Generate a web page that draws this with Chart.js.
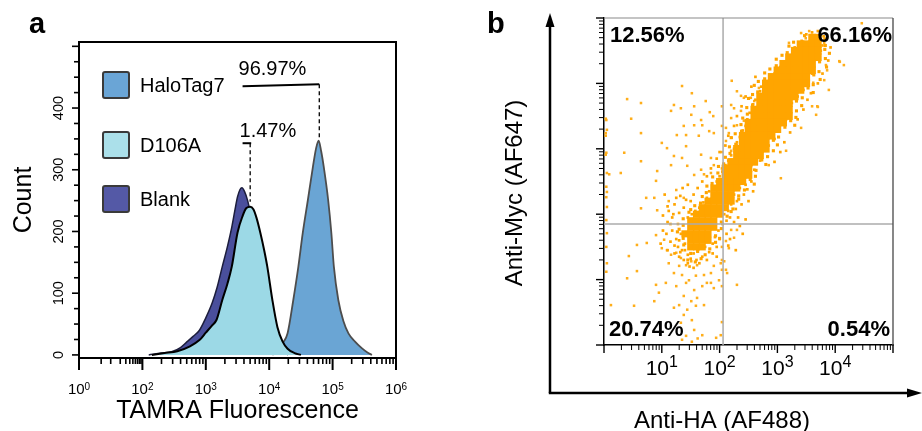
<!DOCTYPE html>
<html><head><meta charset="utf-8">
<script src="https://cdn.jsdelivr.net/npm/chart.js@4.4.0/dist/chart.umd.min.js"></script>
<style>
html,body{margin:0;padding:0;background:#fff;}
#wrap{position:relative;width:922px;height:431px;overflow:hidden;background:#fff;}
#ca{position:absolute;left:0;top:0;}
#cb{position:absolute;left:460px;top:0;}
</style></head><body>
<div id="wrap"><canvas id="ca" width="460" height="431"></canvas><canvas id="cb" width="462" height="431"></canvas></div>
<script>
// ---------------- DATA: panel a (log10 TAMRA fluorescence vs count) ----------------
const haloLog   = [4.05,4.15,4.22,4.29,4.38,4.46,4.53,4.61,4.69,4.74,4.78,4.82,4.86,4.93,4.98,5.02,5.09,5.17,5.25,5.35,5.46,5.55,5.62];
const haloCount = [0,8,20,35,89,143,198,251,305,335,347,330,305,251,198,143,89,55,35,22,11,4,0];
const d106aLog   = [2.15,2.35,2.55,2.75,2.90,3.00,3.10,3.17,3.26,3.34,3.41,3.50,3.58,3.64,3.70,3.75,3.80,3.86,3.92,3.97,4.05,4.13,4.21,4.29,4.40,4.50];
const d106aCount = [0,3,6,14,24,36,48,57,89,115,143,198,225,238,240,236,222,198,170,143,89,45,22,10,3,0];
const blankLog   = [2.10,2.30,2.46,2.60,2.69,2.80,2.90,3.00,3.10,3.18,3.26,3.34,3.41,3.46,3.50,3.54,3.57,3.61,3.66,3.70,3.75,3.80,3.86,3.92,3.97,4.05,4.13,4.21,4.30];
const blankCount = [0,3,5,12,20,30,40,60,84,110,143,175,207,235,256,268,271,265,250,232,210,188,160,130,100,60,28,10,0];
const seriesNames = ['HaloTag7','D106A','Blank'];
const aXTickExps = [0,2,3,4,5,6];
const aYTickLabels = [0,100,200,300,400];
const gateHalo = {text:'96.97%', fromLog:3.58, toLog:4.79, level:437, peak:348};
const gateD106A = {text:'1.47%', fromLog:3.58, toLog:3.70, level:343, end:248};

// ---------------- DATA: panel b (log10 anti-HA vs log10 anti-Myc) ----------------
const quadPercents = ['12.56%','66.16%','20.74%','0.54%'];
const gateX = 2.06, gateY = 1.85;
const bTickExps = [1,2,3,4];
const coreDense = [
[3.6,4.7],[3.7,4.7],
[3.4,4.6],[3.5,4.6],[3.6,4.6],[3.7,4.6],
[3.3,4.5],[3.4,4.5],[3.5,4.5],[3.6,4.5],[3.7,4.5],
[3.2,4.4],[3.3,4.4],[3.4,4.4],[3.5,4.4],[3.6,4.4],[3.7,4.4],
[3.1,4.3],[3.2,4.3],[3.3,4.3],[3.4,4.3],[3.5,4.3],[3.6,4.3],
[3.0,4.2],[3.1,4.2],[3.2,4.2],[3.3,4.2],[3.4,4.2],[3.5,4.2],[3.6,4.2],
[2.9,4.1],[3.0,4.1],[3.1,4.1],[3.2,4.1],[3.3,4.1],[3.4,4.1],[3.5,4.1],
[2.8,4.0],[2.9,4.0],[3.0,4.0],[3.1,4.0],[3.2,4.0],[3.3,4.0],[3.4,4.0],[3.5,4.0],
[2.8,3.9],[2.9,3.9],[3.0,3.9],[3.1,3.9],[3.2,3.9],[3.3,3.9],[3.4,3.9],
[2.7,3.8],[2.8,3.8],[2.9,3.8],[3.0,3.8],[3.1,3.8],[3.2,3.8],[3.3,3.8],
[2.7,3.7],[2.8,3.7],[2.9,3.7],[3.0,3.7],[3.1,3.7],[3.2,3.7],
[2.6,3.6],[2.7,3.6],[2.8,3.6],[2.9,3.6],[3.0,3.6],[3.1,3.6],[3.2,3.6],
[2.6,3.5],[2.7,3.5],[2.8,3.5],[2.9,3.5],[3.0,3.5],[3.1,3.5],[3.2,3.5],
[2.5,3.4],[2.6,3.4],[2.7,3.4],[2.8,3.4],[2.9,3.4],[3.0,3.4],[3.1,3.4],
[2.5,3.3],[2.6,3.3],[2.7,3.3],[2.8,3.3],[2.9,3.3],[3.0,3.3],
[2.4,3.2],[2.5,3.2],[2.6,3.2],[2.7,3.2],[2.8,3.2],[2.9,3.2],
[2.4,3.1],[2.5,3.1],[2.6,3.1],[2.7,3.1],[2.8,3.1],
[2.3,3.0],[2.4,3.0],[2.5,3.0],[2.6,3.0],[2.7,3.0],[2.8,3.0],
[2.3,2.9],[2.4,2.9],[2.5,2.9],[2.6,2.9],[2.7,2.9],
[2.2,2.8],[2.3,2.8],[2.4,2.8],[2.5,2.8],[2.6,2.8],
[2.1,2.7],[2.2,2.7],[2.3,2.7],[2.4,2.7],[2.5,2.7],
[2.1,2.6],[2.2,2.6],[2.3,2.6],[2.4,2.6],[2.5,2.6]
];
const coreMid = [
[2.0,2.5],[2.1,2.5],[2.2,2.5],[2.3,2.5],[2.4,2.5],
[1.9,2.4],[2.0,2.4],[2.1,2.4],[2.2,2.4],[2.3,2.4],
[1.9,2.3],[2.0,2.3],[2.1,2.3],[2.2,2.3],
[1.8,2.2],[1.9,2.2],[2.0,2.2],[2.1,2.2],[2.2,2.2],
[1.7,2.1],[1.8,2.1],[1.9,2.1],[2.0,2.1],[2.1,2.1],
[1.6,2.0],[1.7,2.0],[1.8,2.0],[1.9,2.0],[2.0,2.0],
[1.5,1.9],[1.6,1.9],[1.7,1.9],[1.8,1.9],[1.9,1.9],
[1.5,1.8],[1.6,1.8],[1.7,1.8],[1.8,1.8],[1.9,1.8],
[1.4,1.7],[1.5,1.7],[1.6,1.7],[1.7,1.7],[1.8,1.7],
[1.5,1.6],[1.6,1.6],[1.7,1.6],[1.8,1.6],
[1.5,1.5],[1.6,1.5],[1.7,1.5]
];
const fringe = [
[3.47,4.73],[3.82,4.68],[3.28,4.63],[3.20,4.57],[3.83,4.58],[3.17,4.47],[3.82,4.52],[3.90,4.46],
[3.08,4.43],[2.98,4.37],[3.83,4.38],[2.98,4.27],[3.73,4.33],[3.85,4.25],[2.87,4.22],[2.78,4.16],
[3.72,4.18],[2.78,4.07],[3.63,4.13],[3.74,4.06],[2.67,4.03],[2.60,3.97],[3.62,3.98],[2.66,3.87],
[3.53,3.93],[3.62,3.86],[2.57,3.83],[2.50,3.77],[3.43,3.78],[2.57,3.67],[3.33,3.73],[3.42,3.66],
[2.47,3.63],[3.33,3.58],[2.48,3.53],[2.40,3.47],[3.32,3.48],[2.37,3.37],[3.23,3.43],[3.30,3.36],
[2.38,3.27],[3.13,3.33],[2.27,3.23],[2.20,3.17],[3.02,3.18],[2.28,3.07],[2.93,3.13],[3.00,3.06],
[2.17,3.03],[2.93,2.97],[2.18,2.93],[2.10,2.87],[2.83,2.88],[2.07,2.77],[2.73,2.83],[2.80,2.76],
[1.98,2.73],[2.63,2.67],[1.97,2.63],[1.88,2.57],[2.62,2.58],[1.87,2.47],[2.53,2.53],[2.60,2.46],
[1.78,2.43],[2.43,2.37],[1.77,2.33],[1.70,2.27],[2.33,2.28],[1.67,2.17],[2.33,2.23],[1.57,2.13],
[1.50,2.07],[2.23,2.08],[1.47,2.03],[2.13,1.97],[2.20,2.04],[1.37,1.93],[2.03,1.88],[1.37,1.83],
[1.30,1.77],[2.03,1.78],[1.27,1.73],[1.93,1.67],[1.37,1.63],[1.93,1.57],[2.00,1.63],[1.38,1.53],
[1.83,1.47],[1.50,1.40],[1.62,1.43],[1.75,1.38],[1.45,1.30],[1.58,1.27],[1.68,1.32]
];
const halo = [
[1.05,2.30],[1.12,2.05],[1.18,1.95],[1.22,2.15],[1.28,1.85],[1.30,2.02],[1.33,1.70],[1.36,2.40],[1.25,1.62],[1.18,1.75],
[1.10,1.88],[1.40,1.55],[1.35,1.45],[1.28,1.50],[1.22,1.40],[1.15,1.58],[1.42,2.22],[1.38,2.10],[1.45,2.45],[1.32,2.28],
[1.08,1.70],[1.45,1.38],[1.38,1.30],[1.30,1.35],[1.50,1.32],[1.55,1.40],[1.60,1.30],[1.48,1.20],[1.62,1.45],[1.70,1.35],
[1.75,1.50],[1.82,1.42],[1.88,1.55],[1.95,1.50],[1.92,1.65],[2.00,1.62],[1.98,1.75],[2.05,1.85],[2.08,2.00],[2.15,2.05],
[2.12,1.90],[2.20,2.15],[2.25,2.30],[2.30,2.20],[2.35,2.40],[2.40,2.55],[2.45,2.45],[2.50,2.62],[2.55,2.75],[2.60,2.68],
[2.65,2.90],[2.70,2.82],[2.75,3.00],[2.85,3.05],[2.95,3.15],[3.00,3.28],[3.15,3.45],[3.20,3.55],[3.25,3.70],[3.35,3.80],
[3.45,3.90],[3.50,4.05],[3.60,4.15],[3.62,4.30],[3.68,4.40],[3.75,4.50],[3.78,4.58],[3.80,4.72],[3.70,4.80],[3.60,4.78],
[3.50,4.75],[3.42,4.65],[3.30,4.55],[3.22,4.40],[3.12,4.32],[3.05,4.25],[2.95,4.15],[2.88,4.10],[2.82,4.02],[2.72,3.95],
[2.70,3.88],[2.62,3.75],[2.58,3.68],[2.52,3.55],[2.48,3.45],[2.45,3.35],[2.40,3.28],[2.35,3.18],[2.30,3.10],[2.25,3.00],
[2.20,2.90],[2.15,2.82],[2.10,2.75],[2.05,2.65],[2.00,2.58],[1.95,2.50],[1.88,2.42],[1.82,2.35],[1.78,2.25],[1.72,2.18],
[1.65,2.10],[1.58,2.05],[1.52,2.00],[1.45,1.95],
[2.12,1.70],[2.18,1.62],[2.25,1.88],[2.32,1.95],[2.28,2.08],[2.38,2.15],[2.42,2.30],[2.35,1.82],[2.18,1.95],[2.22,2.40],
[2.48,2.38],[2.55,2.50],[2.50,2.20],[2.15,1.52],[2.28,1.45],[2.40,1.70],[2.45,1.92],[2.58,2.35],
[1.15,1.85],[1.20,2.00],[1.25,2.25],[1.10,2.12],[1.02,1.98],[1.30,1.60],[1.22,1.52],[1.10,1.45],[1.02,1.75],[0.98,1.55],
[1.40,1.45],[1.32,1.42],[1.45,1.25],[1.55,1.18],[1.65,1.25],[1.78,1.30],[1.88,1.40],[1.95,1.35],[1.55,2.30],[1.62,2.40],
[1.70,2.50],[1.78,2.58],[1.85,2.70],[1.50,2.20],
[1.95,2.85],[2.00,2.95],[2.10,3.05],[2.15,3.20],[2.25,3.35],[2.30,3.50],[2.38,3.65],[2.45,3.80],[2.55,3.95],[2.62,4.10],
[2.95,2.80],[3.05,2.95],[3.12,3.10],[3.22,3.25],[3.35,3.45],[3.45,3.60],[3.52,3.75],[3.58,3.85],[3.70,4.00],[3.78,4.15],
[3.88,4.35],[3.92,4.55]
];
const sparse = [
[0.40,3.76],[0.64,3.70],[1.35,3.96],[1.52,3.85],[1.21,3.67],[1.16,3.58],[1.33,3.62],[1.56,3.65],[1.76,3.73],[0.47,3.46],
[0.64,3.24],[0.03,3.46],[0.03,3.24],[0.03,3.20],[1.51,3.52],[1.68,3.44],[1.83,3.56],[1.89,3.50],[1.38,3.35],[1.56,3.36],
[1.70,3.36],[1.26,3.21],[1.42,3.21],[1.64,3.20],[1.82,3.27],[1.90,3.24],[2.04,3.65],[2.04,3.35],[1.00,3.09],[1.09,3.01],
[1.42,3.04],[0.35,2.94],[0.03,2.91],[1.21,2.89],[1.35,2.86],[1.68,2.91],[1.85,2.86],[0.64,2.81],[0.92,2.66],[1.16,2.75],
[1.44,2.74],[1.68,2.68],[1.90,2.75],[0.09,2.61],[0.29,2.63],[0.90,2.51],[1.56,2.60],[1.73,2.61],[1.85,2.63],
[2.21,4.04],[2.30,3.88],[2.37,3.81],[2.42,3.78],[2.20,3.67],[2.25,3.62],[2.37,3.58],[2.20,3.47],[2.11,3.32],[2.16,3.24],
[2.30,3.36],[2.42,3.43],[2.11,3.12],[2.21,3.17],[2.30,3.06],[2.39,3.12],[2.20,2.97],
[3.41,4.77],[3.55,4.80],[4.46,4.92],[4.07,4.34],[4.15,4.28],[3.84,4.28],[3.86,4.20],[3.81,4.05],[3.89,3.90],[3.60,3.65],
[3.69,3.65],[3.67,3.52],[3.41,3.32],[3.15,2.97],[2.85,2.75],[3.06,2.55],[2.68,3.93],[2.60,3.73],[2.54,3.78],[3.20,4.62],
[3.29,4.50],[3.72,4.69],[3.81,4.62],[3.49,4.69],[4.08,4.33],[3.70,3.64],[3.62,4.01],
[0.04,3.44],[0.05,3.29],[0.04,2.94],[0.05,2.63],[0.04,2.42],[0.05,2.34],[0.04,2.26],[0.05,2.11],[0.04,1.91],[0.05,1.71],
[0.04,1.50],[0.05,1.25],[0.04,1.12],[0.12,0.61],
[0.73,2.25],[0.87,2.25],[0.64,2.09],[0.92,2.06],[1.12,2.20],[1.38,2.25],[1.25,2.37],[0.90,1.68],[0.74,1.56],[0.57,1.53],
[1.04,1.61],[1.00,1.48],[0.43,1.36],[0.57,1.13],[0.40,1.02],[1.09,1.45],[1.16,1.38],[1.25,1.41],[1.33,1.33],[1.12,1.25],
[1.30,1.21],[1.42,1.22],[1.51,1.28],[1.61,1.22],[1.21,1.10],[1.35,1.07],[1.47,0.99],[1.59,1.06],[1.73,1.07],[1.85,1.10],
[1.07,0.95],[1.25,0.90],[1.42,0.95],[1.56,0.84],[1.70,0.90],[1.85,0.95],[0.90,0.92],[0.95,0.80],[1.38,0.75],[1.51,0.67],
[1.61,0.72],[1.30,0.61],[1.44,0.54],[1.59,0.60],[1.73,0.61],[0.87,0.67],[0.52,0.60],[1.21,0.57],[1.38,0.46],[1.52,0.38],
[1.33,0.34],[1.56,0.23],[1.70,0.15],[1.42,0.14],[1.94,0.11],[2.02,0.15],[1.78,0.95],[1.90,0.87],[1.99,0.99],[1.90,1.21],
[2.02,1.25],[1.35,0.08],[1.52,0.05],[1.62,0.10],
[2.11,1.59],[2.16,1.48],[2.25,1.64],[2.30,1.76],[2.20,1.76],[2.08,1.28],[2.11,1.15],[2.30,0.92],[2.13,1.10],[2.04,0.35],
[2.04,2.95],[2.04,2.70],[2.04,2.45],[2.04,1.50],[2.04,1.30],[2.04,1.15],[2.04,0.90]
];

// ---------------- rendering ----------------
const FONT = '"Liberation Sans", Arial, Helvetica, sans-serif';
Chart.defaults.font.family = FONT;
Chart.defaults.color = '#000';
// FACS display axis: 10^0..10^2 compressed into one display unit, one unit per decade above
function disp(l){ return l < 2 ? l / 2 : l - 1; }
function pts(xs, ys){ return xs.map((l, i) => ({x: disp(l), y: ys[i]})); }
function xy(arr){ return arr.map(p => ({x: p[0], y: p[1]})); }

function powLabel(ctx, cx, base, exp, f1, f2, raise){
  ctx.font = f1; const w1 = ctx.measureText('10').width;
  ctx.font = f2; const w2 = ctx.measureText(String(exp)).width;
  const left = cx - (w1 + w2) / 2;
  ctx.textAlign = 'left'; ctx.textBaseline = 'alphabetic';
  ctx.font = f1; ctx.fillText('10', left, base);
  ctx.font = f2; ctx.fillText(String(exp), left + w1, base - raise);
}
function line(ctx, x1, y1, x2, y2){ ctx.beginPath(); ctx.moveTo(x1, y1); ctx.lineTo(x2, y2); ctx.stroke(); }
function rrect(ctx, x, y, w, h, r){
  ctx.beginPath(); ctx.moveTo(x + r, y); ctx.lineTo(x + w - r, y); ctx.quadraticCurveTo(x + w, y, x + w, y + r);
  ctx.lineTo(x + w, y + h - r); ctx.quadraticCurveTo(x + w, y + h, x + w - r, y + h); ctx.lineTo(x + r, y + h);
  ctx.quadraticCurveTo(x, y + h, x, y + h - r); ctx.lineTo(x, y + r); ctx.quadraticCurveTo(x, y, x + r, y); ctx.closePath();
}

const legendFill = {'HaloTag7':'#6aa5d6','D106A':'#abe0ea','Blank':'#5459a6'};

const panelA = {
  id: 'panelA',
  afterDraw(chart){
    const {ctx, chartArea: ca, scales: {x, y}} = chart;
    ctx.save();
    ctx.strokeStyle = '#000'; ctx.fillStyle = '#000';
    ctx.lineWidth = 2;
    ctx.beginPath(); ctx.moveTo(ca.left, ca.top); ctx.lineTo(ca.right, ca.top); ctx.lineTo(ca.right, ca.bottom); ctx.stroke();
    const minorX = [Math.log10(5), 1];
    for (let k = 2; k <= 9; k++) minorX.push(Math.log10(k * 10));
    for (let n = 2; n <= 5; n++) for (let k = 2; k <= 9; k++) minorX.push(n + Math.log10(k));
    ctx.lineWidth = 1.6;
    minorX.forEach(l => { const px = x.getPixelForValue(disp(l)); line(ctx, px, ca.bottom, px, ca.bottom + 6); });
    ctx.lineWidth = 2;
    aXTickExps.forEach(e => { const px = x.getPixelForValue(disp(e)); line(ctx, px, ca.bottom, px, ca.bottom + 12); });
    aXTickExps.forEach(e => { powLabel(ctx, x.getPixelForValue(disp(e)), 394, e, '15px ' + FONT, '10px ' + FONT, 4.5); });
    ctx.lineWidth = 1.6;
    for (let v = 0; v <= 500; v += 25) {
      const py = y.getPixelForValue(v); const major = v % 100 === 0;
      line(ctx, ca.left - (major ? 7 : 5), py, ca.left, py);
    }
    ctx.font = '14.5px ' + FONT; ctx.textAlign = 'center'; ctx.textBaseline = 'alphabetic';
    aYTickLabels.forEach(v => {
      ctx.save(); ctx.translate(63, y.getPixelForValue(v)); ctx.rotate(-Math.PI / 2); ctx.fillText(String(v), 0, 0); ctx.restore();
    });
    const legY = [72, 132, 186];
    seriesNames.forEach((name, i) => {
      rrect(ctx, 103, legY[i], 26, 26, 2);
      ctx.fillStyle = legendFill[name]; ctx.fill();
      ctx.lineWidth = 2; ctx.strokeStyle = '#3a3a3a'; ctx.stroke();
      ctx.fillStyle = '#000'; ctx.font = '20px ' + FONT; ctx.textAlign = 'left'; ctx.textBaseline = 'alphabetic';
      ctx.fillText(name, 140, legY[i] + 20);
    });
    ctx.strokeStyle = '#000'; ctx.fillStyle = '#000';
    const g1x1 = x.getPixelForValue(disp(gateHalo.fromLog)), g1x2 = x.getPixelForValue(disp(gateHalo.toLog));
    const g1y = y.getPixelForValue(gateHalo.level), g1p = y.getPixelForValue(gateHalo.peak);
    ctx.lineWidth = 2; line(ctx, g1x1, g1y + 1, g1x2, g1y - 1);
    ctx.setLineDash([4, 3]); ctx.lineWidth = 1.3; line(ctx, g1x2, g1y - 1, g1x2, g1p); ctx.setLineDash([]);
    ctx.font = '20px ' + FONT; ctx.textAlign = 'left'; ctx.fillText(gateHalo.text, g1x1 - 4, g1y - 10);
    const g2x1 = x.getPixelForValue(disp(gateD106A.fromLog)), g2x2 = x.getPixelForValue(disp(gateD106A.toLog));
    const g2y = y.getPixelForValue(gateD106A.level), g2e = y.getPixelForValue(gateD106A.end);
    ctx.lineWidth = 2; line(ctx, g2x1, g2y, g2x2 + 1, g2y);
    ctx.setLineDash([4, 3]); ctx.lineWidth = 1.3; line(ctx, g2x2, g2y, g2x2, g2e); ctx.setLineDash([]);
    ctx.fillText(gateD106A.text, g2x1 - 3, g2y - 6);
    ctx.font = 'bold 29px ' + FONT; ctx.fillText('a', 29, 33);
    ctx.restore();
  }
};

new Chart(document.getElementById('ca'), {
  type: 'line',
  data: {datasets: [
    {label: 'D106A', data: pts(d106aLog, d106aCount), fill: 'origin', backgroundColor: '#9cd9e6', borderColor: '#000', borderWidth: 2, pointRadius: 0, cubicInterpolationMode: 'monotone'},
    {label: 'Blank', data: pts(blankLog, blankCount), fill: 'origin', backgroundColor: '#4a4f9c', borderColor: '#1c1d3c', borderWidth: 1.5, pointRadius: 0, cubicInterpolationMode: 'monotone'},
    {label: 'HaloTag7', data: pts(haloLog, haloCount), fill: 'origin', backgroundColor: '#6aa5d4', borderColor: '#4d4d4d', borderWidth: 1.8, pointRadius: 0, cubicInterpolationMode: 'monotone'}
  ]},
  options: {
    responsive: false, animation: false, devicePixelRatio: 1,
    layout: {padding: {left: 0, top: 42, right: 64, bottom: 0}},
    plugins: {legend: {display: false}, tooltip: {enabled: false}},
    scales: {
      x: {type: 'linear', min: 0, max: 5, afterFit(s){ s.height = 73; },
          grid: {display: false, drawTicks: false}, border: {display: true, color: '#000', width: 2},
          ticks: {display: false},
          title: {display: true, text: 'TAMRA Fluorescence', color: '#000', font: {size: 25, family: FONT}, padding: {top: 0, bottom: 5}}},
      y: {type: 'linear', min: -5, max: 507, afterFit(s){ s.width = 79; },
          grid: {display: false, drawTicks: false}, border: {display: true, color: '#000', width: 2},
          ticks: {display: false},
          title: {display: true, text: 'Count', color: '#000', font: {size: 25, family: FONT}, padding: {top: 9, bottom: 0}}}
    }
  },
  plugins: [panelA]
});

const panelB = {
  id: 'panelB',
  afterDatasetsDraw(chart){
    const {ctx, chartArea: ca, scales: {x, y}} = chart;
    ctx.save();
    ctx.strokeStyle = '#ababab'; ctx.lineWidth = 1.5;
    const gx = x.getPixelForValue(gateX), gy = y.getPixelForValue(gateY);
    line(ctx, gx, ca.top, gx, ca.bottom); line(ctx, ca.left, gy, ca.right, gy);
    ctx.restore();
  },
  afterDraw(chart){
    const {ctx, chartArea: ca, scales: {x, y}} = chart;
    const ox = 460;
    ctx.save();
    ctx.strokeStyle = '#8a8a8a'; ctx.lineWidth = 1.2; line(ctx, ca.left, ca.top, ca.right, ca.top);
    ctx.strokeStyle = '#555'; ctx.lineWidth = 1.4; line(ctx, ca.right, ca.top, ca.right, ca.bottom);
    ctx.strokeStyle = '#000';
    for (let n = 0; n <= 5; n++) for (let k = 1; k <= 9; k++) {
      const l = n + Math.log10(k); if (l > 5.0001) continue;
      const major = k === 1; ctx.lineWidth = major ? 1.4 : 1;
      const px = x.getPixelForValue(l); line(ctx, px, ca.bottom, px, ca.bottom + (major ? 8 : 5));
      const py = y.getPixelForValue(l); line(ctx, ca.left - (major ? 8 : 5), py, ca.left, py);
    }
    ctx.fillStyle = '#000';
    bTickExps.forEach(e => powLabel(ctx, x.getPixelForValue(e), 375, e, '21px ' + FONT, '16px ' + FONT, 8));
    bTickExps.forEach(e => {
      ctx.save(); ctx.translate(597, y.getPixelForValue(e)); ctx.rotate(-Math.PI / 2);
      powLabel(ctx, 0, 0, e, '21px ' + FONT, '16px ' + FONT, 8); ctx.restore();
    });
    ctx.font = 'bold 22px ' + FONT; ctx.textBaseline = 'alphabetic';
    ctx.textAlign = 'left'; ctx.fillText(quadPercents[0], ca.left + 6, ca.top + 24); ctx.fillText(quadPercents[2], ca.left + 5, ca.bottom - 9);
    ctx.textAlign = 'right'; ctx.fillText(quadPercents[1], ca.right - 1, ca.top + 24); ctx.fillText(quadPercents[3], ca.right - 3, ca.bottom - 9);
    ctx.strokeStyle = '#000'; ctx.lineWidth = 2.5;
    const ax = 550 - ox, ay = 393;
    line(ctx, ax, ay, ax, 24); line(ctx, ax - 1.2, ay, 910 - ox, ay);
    ctx.beginPath(); ctx.moveTo(ax, 13); ctx.lineTo(ax - 4.5, 27); ctx.lineTo(ax + 4.5, 27); ctx.closePath(); ctx.fill();
    ctx.beginPath(); ctx.moveTo(922 - ox, ay); ctx.lineTo(907 - ox, ay - 4.5); ctx.lineTo(907 - ox, ay + 4.5); ctx.closePath(); ctx.fill();
    ctx.font = '24px ' + FONT; ctx.textAlign = 'center'; ctx.textBaseline = 'alphabetic';
    ctx.fillText('Anti-HA (AF488)', 722 - ox, 428);
    ctx.save(); ctx.translate(522 - ox, 193); ctx.rotate(-Math.PI / 2); ctx.fillText('Anti-Myc (AF647)', 0, 0); ctx.restore();
    ctx.font = 'bold 29px ' + FONT; ctx.textAlign = 'left'; ctx.fillText('b', 487 - ox, 33);
    ctx.restore();
  }
};

const ORANGE = '#ffa500';
new Chart(document.getElementById('cb'), {
  type: 'scatter',
  data: {datasets: [
    {label: 'events (dense)', data: xy(coreDense), pointStyle: 'rect', pointRadius: 5.4, backgroundColor: ORANGE, borderWidth: 0},
    {label: 'events (mid)', data: xy(coreMid), pointStyle: 'rect', pointRadius: 5.0, backgroundColor: ORANGE, borderWidth: 0},
    {label: 'events (fringe)', data: xy(fringe), pointStyle: 'rect', pointRadius: 2.2, backgroundColor: ORANGE, borderWidth: 0},
    {label: 'events (halo)', data: xy(halo), pointStyle: 'rect', pointRadius: 1.9, backgroundColor: ORANGE, borderWidth: 0},
    {label: 'events (sparse)', data: xy(sparse), pointStyle: 'rect', pointRadius: 1.8, backgroundColor: '#ffae1a', borderWidth: 0}
  ]},
  options: {
    responsive: false, animation: false, devicePixelRatio: 1,
    layout: {padding: {left: 0, top: 18, right: 29, bottom: 0}},
    plugins: {legend: {display: false}, tooltip: {enabled: false}},
    scales: {
      x: {type: 'linear', min: 0, max: 5, afterFit(s){ s.height = 86; },
          grid: {display: false, drawTicks: false}, border: {display: true, color: '#000', width: 1.5}, ticks: {display: false}},
      y: {type: 'linear', min: 0, max: 5, afterFit(s){ s.width = 144; },
          grid: {display: false, drawTicks: false}, border: {display: true, color: '#000', width: 1.5}, ticks: {display: false}}
    }
  },
  plugins: [panelB]
});
</script>
</body></html>
